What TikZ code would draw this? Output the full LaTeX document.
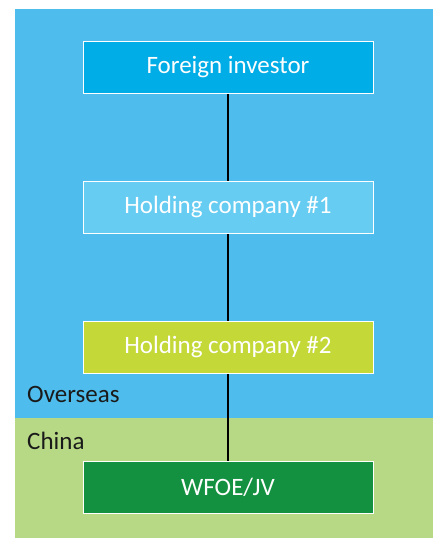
\documentclass[tikz,border=0pt]{standalone}
\usepackage{fontspec}
\setmainfont{Carlito}
\usepackage{tikz}
\usetikzlibrary{positioning}
\definecolor{overseas}{RGB}{78,188,236}
\definecolor{china}{RGB}{183,217,133}
\definecolor{investor}{RGB}{0,173,230}
\definecolor{holdone}{RGB}{102,204,242}
\definecolor{holdtwo}{RGB}{196,216,56}
\definecolor{wfoe}{RGB}{19,145,64}
\definecolor{labeltext}{RGB}{26,26,26}
\tikzstyle{entity} = [rectangle, minimum width=290pt, minimum height=52pt, text centered, draw=white, line width=1pt, text=white, font=\fontsize{25}{29}\selectfont]
\tikzstyle{region} = [anchor=base west, inner sep=0pt, text=labeltext, font=\fontsize{25}{29}\selectfont]
\tikzstyle{link} = [line width=2pt, black]

\begin{document}
\begin{tikzpicture}[node distance=87pt]
	\useasboundingbox (0,0) rectangle (433pt,-539pt);
	
	% Background
	\fill[overseas] (15pt,-9pt) rectangle (433pt,-418pt);
	\fill[china] (15pt,-418pt) rectangle (433pt,-538pt);
	
	% Nodes
	\node (investor) [entity, fill=investor] at (228pt,-67pt) {Foreign investor};
	\node (hold1) [entity, fill=holdone, below=of investor] {Holding company \#1};
	\node (hold2) [entity, fill=holdtwo, below=of hold1] {Holding company \#2};
	\node (wfoe) [entity, fill=wfoe, below=of hold2] {WFOE/JV};
	\node (overseas) [region] at (27pt,-402pt) {Overseas};
	\node (china) [region] at (27pt,-449pt) {China};
	
	% Lines
	\draw [link] (investor) -- (hold1);
	\draw [link] (hold1) -- (hold2);
	\draw [link] (hold2) -- (wfoe);
	
\end{tikzpicture}
\end{document}
